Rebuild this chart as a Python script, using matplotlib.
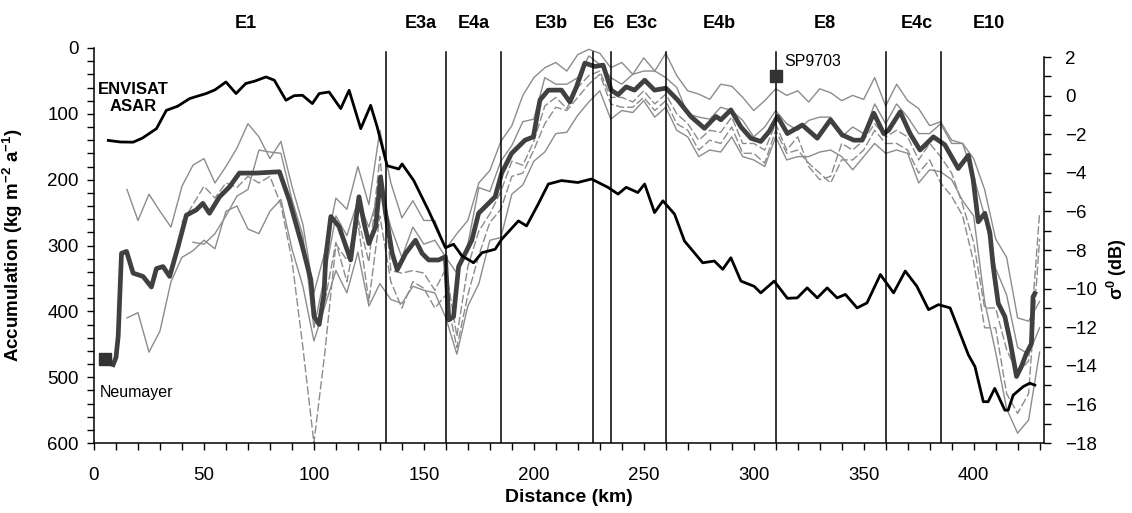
import matplotlib.pyplot as plt
import matplotlib.transforms as mtransforms
import numpy as np

plt.rcParams['font.family'] = ['Liberation Sans', 'DejaVu Sans']
plt.rcParams['mathtext.fontset'] = 'custom'
plt.rcParams['mathtext.rm'] = 'Liberation Sans'
plt.rcParams['mathtext.bf'] = 'Liberation Sans:bold'

# mean accumulation along the traverse (km, kg m-2 a-1)
mean_km = [8.7, 10, 11, 12.5, 14.8, 17.8, 22.3, 26.1, 28.4, 31.4, 34.4, 38.2, 42, 46.5,
           49.5, 52.5, 57.1, 61.6, 66.1, 73.7, 84.3, 88.8, 94.8, 98.6, 100.1, 102.4,
           104.6, 105.4, 107.7, 111.4, 116.7, 120.5, 122.8, 125, 128.1, 130.3, 132.6,
           135.6, 137.9, 141.7, 146.2, 149.2, 152.2, 156.7, 159.8, 161.3, 163.5, 165.8,
           168.8, 171.8, 174.9, 177.9, 182.4, 185.4, 189.9, 196, 199.8, 202.8, 206.6,
           212.6, 216.4, 219.4, 223.2, 227.7, 231.5, 235.2, 238.3, 242, 245.8, 250.4,
           254.9, 260.1, 265.4, 271.4, 277.6, 282.8, 285.1, 289.6, 294.2, 298.7, 303.2,
           307, 310.8, 315.3, 322.1, 328.9, 334.9, 340.2, 345.5, 349.3, 354.6, 359.1,
           361.3, 366.6, 371.1, 375.6, 381.7, 386.9, 393, 397.6, 399.8, 402.1, 405.1,
           407.4, 408.9, 411.2, 414.2, 416.5, 418.7, 419.5, 421.7, 424, 426.3, 427, 427.8]
mean_acc = [481, 470, 438, 312, 309, 342, 347, 363, 335, 332, 347, 302, 254, 246,
            236, 251, 226, 211, 190, 190, 188, 231, 302, 352, 408, 420,
            373, 317, 256, 271, 322, 226, 266, 297, 271, 196, 251,
            312, 337, 312, 292, 312, 322, 322, 317, 413, 408, 332,
            312, 292, 251, 241, 226, 190, 160, 140, 135, 79, 64,
            64, 82, 59, 23, 28, 26, 64, 71, 59, 64, 49,
            64, 61, 79, 104, 122, 104, 109, 94, 120, 137, 142,
            127, 104, 130, 117, 137, 109, 132, 140, 140, 99, 130,
            125, 97, 130, 155, 135, 147, 183, 163, 200, 264, 251,
            281, 332, 388, 408, 444, 484, 499, 484, 464, 449, 378, 373]

# individual accumulation records on a 5 km grid
grid_km = np.arange(10, 431, 5)
nan = np.nan
core_a = [nan, 215, 262, 222, 248, 272, 210, 178, 168, 205,
          180, 152, 115, 135, 168, 142, 210, 268, 372, 310,
          228, 245, 180, 238, 125, 205, 258, 232, 262, 262,
          305, 282, 262, 205, 186, 142, 118, 72, 45, 30,
          22, 35, 10, 2, 8, 30, 22, 40, 15, 35,
          8, 42, 65, 70, 78, 55, 58, 75, 95, 80,
          62, 72, 65, 82, 62, 68, 80, 72, 78, 45,
          88, 55, 80, 92, 118, 112, 140, 145, 168, 215,
          290, 318, 410, 415, 385]
core_b = [nan, 410, 402, 462, 430, 355, 318, 308, 292, 305,
          248, 240, 275, 282, 248, 230, 305, 362, 445, 392,
          338, 372, 310, 392, 358, 382, 388, 362, 368, 372,
          410, 465, 392, 358, 292, 288, 222, 208, 172, 158,
          130, 128, 102, 82, 65, 108, 95, 98, 80, 105,
          90, 125, 135, 165, 155, 158, 135, 165, 170, 180,
          135, 170, 165, 165, 158, 155, 165, 185, 165, 145,
          160, 155, 160, 205, 185, 188, 200, 232, 255, 385,
          462, 548, 585, 565, 462]
core_c = [nan, nan, nan, nan, nan, nan, 265, 238, 210, 228,
          205, 212, 195, 205, 195, 238, 322, 455, 600, 462,
          298, 322, 258, 325, 165, 338, 342, 338, 342, 368,
          335, 438, 332, 278, 252, 218, 172, 178, 142, 88,
          75, 92, 60, 42, 35, 75, 75, 82, 65, 85,
          70, 100, 115, 140, 125, 128, 105, 145, 145, 155,
          115, 155, 135, 180, 200, 195, 145, 155, 140, 115,
          135, 125, 135, 170, 145, 165, 190, 238, 295, 395,
          395, 458, 495, 475, 250]
core_d = [nan, nan, nan, nan, nan, nan, nan, 295, 298, 282,
          255, 225, 215, 155, 158, 160, 230, 285, 425, 345,
          255, 285, 232, 272, 215, 272, 318, 272, 298, 292,
          318, 342, 298, 212, 218, 172, 148, 112, 108, 45,
          55, 55, 45, 12, 25, 45, 55, 40, 35, 35,
          45, 60, 100, 105, 108, 90, 95, 110, 135, 120,
          95, 115, 125, 110, 105, 105, 135, 120, 130, 85,
          115, 85, 105, 130, 130, 115, 145, 145, 195, 255,
          335, 375, 455, 465, 425]
core_e = [nan, nan, nan, nan, nan, nan, nan, nan, nan, nan,
          nan, nan, nan, nan, nan, nan, nan, nan, nan, 385,
          295, 355, 265, 385, 255, 355, 395, 355, 365, 395,
          375, 455, 375, 315, 265, 245, 195, 190, 155, 115,
          90, 95, 75, 55, 40, 85, 90, 90, 75, 95,
          80, 115, 125, 155, 140, 145, 120, 160, 160, 175,
          125, 160, 155, 175, 190, 205, 170, 170, 155, 125,
          145, 145, 155, 190, 170, 205, 225, 255, 325, 425,
          425, 525, 555, 525, 290]

# ENVISAT ASAR backscatter (km, dB)
asar_km = [6.5, 12, 17.8, 22, 28.4, 32.9, 38, 43.5, 51, 55, 60, 64.6, 69, 73, 78.2, 82,
           87.3, 91, 94.8, 99.3, 102.4, 106.9, 112.2, 116, 121.3, 125.8, 128.8, 133.3,
           138.6, 140.1, 145.4, 152.2, 159.8, 163.5, 167.3, 172.6, 176.4, 182.4, 185.4,
           193, 196.7, 202, 206.6, 212.6, 220, 226.2, 233.7, 238.3, 242, 247.3, 250.4,
           254.9, 258.7, 264, 268.5, 276.8, 282.1, 285.9, 289.6, 294.2, 300.2, 303.2,
           309.3, 315.3, 319.8, 324.3, 328.9, 333.4, 337.9, 341.7, 347, 351.5, 357.6,
           363.6, 368.9, 374.2, 379.5, 384, 389.3, 392.3, 397.6, 400.6, 404.4, 406.6,
           409.6, 414.2, 415.7, 418, 422.5, 425.5, 427.8]
asar_db = [-2.32, -2.4, -2.41, -2.2, -1.71, -0.76, -0.55, -0.15, 0.11, 0.3, 0.71, 0.11,
           0.63, 0.75, 0.97, 0.8, -0.24, 0.0, 0.02, -0.41, 0.11, 0.19, -0.67, 0.28,
           -1.71, -0.5, -1.63, -3.63, -3.8, -3.54, -4.4, -5.97, -7.88, -7.7, -8.3,
           -8.66, -8.14, -7.96, -7.44, -6.49, -6.75, -5.62, -4.58, -4.4, -4.5, -4.32,
           -4.75, -5.1, -4.75, -5.02, -4.58, -6.06, -5.45, -6.14, -7.53, -8.66, -8.57,
           -9.0, -8.4, -9.61, -9.88, -10.22, -9.61, -10.5, -10.48, -9.96, -10.48, -9.96,
           -10.48, -10.3, -11.0, -10.74, -9.27, -10.22, -9.09, -9.88, -11.09, -10.83,
           -11.0, -11.87, -13.43, -14.04, -15.86, -15.86, -15.17, -16.3, -16.3, -15.52,
           -15.08, -14.9, -15.0]

# zone boundaries and names
zone_edges = [133, 160, 185, 227, 235, 260, 310, 360, 385]
zone_names = ['E1', 'E3a', 'E4a', 'E3b', 'E6', 'E3c', 'E4b', 'E8', 'E4c', 'E10']
zone_mid = [69, 148.5, 172.5, 208, 232, 249, 284.5, 332.5, 374, 407]

# reference stations
station_names = ['Neumayer', 'SP9703']
station_km = [4.8, 310.3]
station_acc = [472, 42]

fig = plt.figure(figsize=(11.32, 5.13), dpi=100)
ax = fig.add_axes([94 / 1132, 1 - 443 / 513, 950 / 1132, 395 / 513])

grey = '#8c8c8c'
dash = (0, (6, 2))
for vals, ls in [(core_a, '-'), (core_b, '-'), (core_c, dash), (core_d, '-'), (core_e, dash)]:
    ax.plot(grid_km, vals, color=grey, lw=1.0, ls=ls, zorder=2)
ax.plot(mean_km, mean_acc, color='#404040', lw=3.4, zorder=3)

for x in zone_edges:
    ax.axvline(x, ymin=0, ymax=0.99, color='black', lw=1.1, zorder=4)

ax.plot(station_km, station_acc, ls='none', marker='s', ms=9, color='#333333', zorder=5)
ax.text(2.5, 523, station_names[0], fontsize=11.5, va='center', ha='left')
ax.text(314, 21, station_names[1], fontsize=11.5, va='center', ha='left')

ax.set_xlim(0, 432)
ax.set_ylim(600, 0)
ax.set_xticks(np.arange(0, 401, 50))
ax.set_xticks(np.arange(0, 431, 10), minor=True)
ax.set_yticks(np.arange(0, 601, 100))
ax.set_yticks(np.arange(0, 601, 20), minor=True)
ax.tick_params(which='both', direction='out', length=5, width=1, labelsize=13.5)
ax.tick_params(axis='x', which='major', pad=12)
ax.tick_params(axis='y', which='major', pad=6)
ax.spines['top'].set_visible(False)
ax.spines['right'].set_visible(False)
for s in ['left', 'bottom']:
    ax.spines[s].set_linewidth(1.1)

ax.set_xlabel('Distance (km)', fontsize=14, fontweight='bold', labelpad=4)
ax.set_ylabel('Accumulation (kg m$^{\\mathbf{-2}}$ a$^{\\mathbf{-1}}$)', fontsize=13.5,
              fontweight='bold')
ax.yaxis.set_label_coords(-0.0726, 0.5)

# zone labels above the plot
trans = mtransforms.blended_transform_factory(ax.transData, ax.transAxes)
for name, x in zip(zone_names, zone_mid):
    ax.text(x, 1.063, name, transform=trans, ha='center', va='center',
            fontsize=13, fontweight='bold')

# backscatter on the secondary axis
ax2 = ax.twinx()
ax2.plot(asar_km, asar_db, color='black', lw=2.0, zorder=6)
ax2.set_ylim(-18, 2.47)
ax2.set_yticks(np.arange(-18, 3, 2))
ax2.set_yticks(np.arange(-18, 3, 1), minor=True)
ax2.tick_params(which='both', direction='out', length=5, width=1, labelsize=13.5, pad=10)
ax2.spines['top'].set_visible(False)
ax2.spines['left'].set_visible(False)
ax2.spines['bottom'].set_visible(False)
ax2.spines['right'].set_bounds(-18, 2)
ax2.spines['right'].set_linewidth(1.1)
ax2.set_ylabel('σ$^{\\mathbf{0}}$ (dB)', fontsize=13, fontweight='bold')
ax2.yaxis.set_label_coords(1.064, 0.44)
ax2.text(18, -0.12, 'ENVISAT\nASAR', ha='center', va='center', fontsize=12,
         fontweight='bold', linespacing=1.2, transform=ax2.transData)

fig.savefig('out.png', dpi=100)
